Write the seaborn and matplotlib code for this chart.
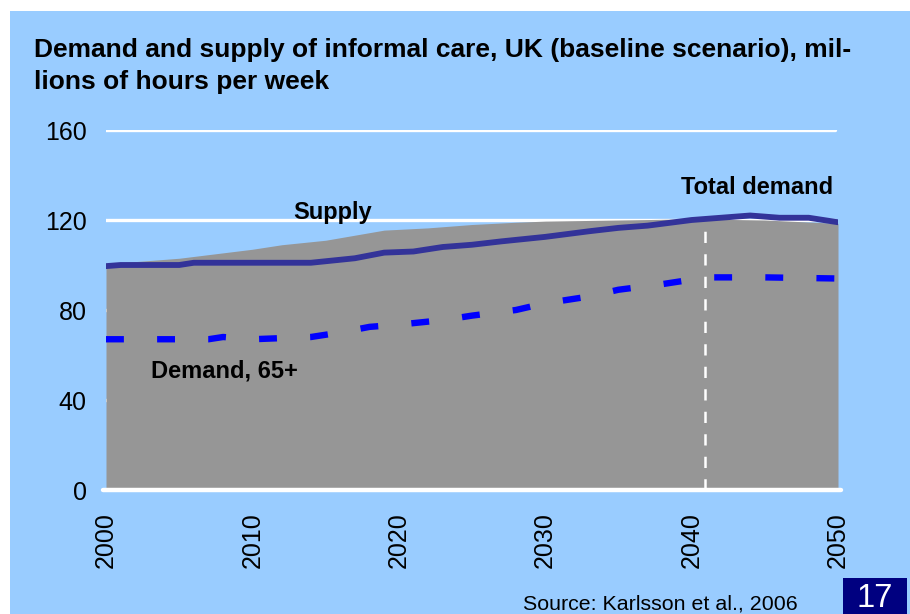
import matplotlib
matplotlib.use("Agg")
import matplotlib.pyplot as plt
import seaborn as sns
import pandas as pd
from matplotlib.patches import Rectangle

# data (millions of hours per week)
supply_years = [2000, 2001, 2005, 2006, 2014, 2017, 2019, 2021, 2023, 2025, 2027,
                2030, 2033, 2035, 2037, 2040, 2042, 2044, 2046, 2048, 2049, 2050]
supply = [99.5, 100, 100, 101, 101, 103, 105.5, 106, 108, 109, 110.5,
          112.5, 115, 116.5, 117.5, 120, 121, 122, 121, 121, 120, 119]

total_years = [2000, 2005, 2010, 2012, 2015, 2019, 2022, 2025, 2028, 2030,
               2035, 2040, 2045, 2050]
total_demand = [100.5, 103, 107, 109, 111, 115.5, 116.5, 118, 119, 119.5,
                120, 120.5, 120, 118.5]

demand_years = [2000, 2007, 2008, 2010, 2014, 2016, 2018, 2020, 2023, 2025,
                2028, 2030, 2033, 2035, 2038, 2040, 2041, 2045, 2050]
demand_65 = [67, 67, 68, 67, 68, 70, 72.5, 73.5, 75.5, 77.5,
             80, 83, 86, 89, 91.5, 93.5, 94.5, 94.5, 94]

y_ticks = [0, 40, 80, 120, 160]
x_ticks = [2000, 2010, 2020, 2030, 2040, 2050]

BG = "#99CCFF"

sns.set_theme(style="white")
plt.rcParams["font.family"] = ["Liberation Sans", "DejaVu Sans"]
plt.rcParams["text.color"] = "black"
plt.rcParams["xtick.color"] = "black"
plt.rcParams["ytick.color"] = "black"

fig = plt.figure(figsize=(9.1, 6.14), dpi=100, facecolor="white")
fig.patches.append(Rectangle((10 / 910, 0), 900 / 910, 603 / 614,
                             transform=fig.transFigure, facecolor=BG,
                             edgecolor="none", zorder=-10))

ax = fig.add_axes([106 / 910, 124 / 614, 732 / 910, 360 / 614])
ax.set_facecolor("none")

# grid behind the area
for v in y_ticks[1:]:
    ax.axhline(v, color="white", lw=2.4, zorder=0, xmin=-0.002, xmax=0.996)

ax.fill_between(total_years, 0, total_demand, color="#969696", lw=0, zorder=1)

df_s = pd.DataFrame({"year": supply_years, "value": supply})
df_d = pd.DataFrame({"year": demand_years, "value": demand_65})
sns.lineplot(data=df_s, x="year", y="value", ax=ax, color="#333399", lw=4.2,
             zorder=3, solid_capstyle="round")
sns.lineplot(data=df_d, x="year", y="value", ax=ax, color="#0000FF", lw=4.6,
             zorder=3, dashes=False)
ax.lines[-1].set_dashes([2.8, 5.2])
ax.lines[-1].set_dash_capstyle("butt")

# vertical marker for total demand
ax.plot([2040.9, 2040.9], [0, 120.5], color="white", lw=1.8,
        dashes=(4.5, 4.5), zorder=2)

# baseline
ax.axhline(0, color="white", lw=3.2, zorder=4, xmin=-0.004, xmax=1.004,
           clip_on=False, solid_capstyle="round")

ax.set_xlim(2000, 2050)
ax.set_ylim(0, 160)
ax.set_yticks(y_ticks)
ax.set_xticks(x_ticks)
ax.tick_params(axis="y", length=0, pad=14, labelsize=18)
ax.tick_params(axis="x", length=0, pad=16, labelsize=18, labelrotation=90)
ax.set_xlabel("")
ax.set_ylabel("")
sns.despine(ax=ax, left=True, bottom=True)

ax.text(2015.5, 120.3, "Supply", ha="center", va="baseline",
        fontsize=17, fontweight="bold", zorder=5)
ax.text(2044.5, 131.6, "Total demand", ha="center", va="baseline",
        fontsize=17, fontweight="bold", zorder=5)
ax.text(2008.1, 50, "Demand, 65+", ha="center", va="baseline",
        fontsize=17, fontweight="bold", zorder=5)

fig.text(34 / 910, 1 - 56.5 / 614,
         "Demand and supply of informal care, UK (baseline scenario), mil-",
         ha="left", va="baseline", fontsize=19, fontweight="bold")
fig.text(34 / 910, 1 - 88.5 / 614, "lions of hours per week",
         ha="left", va="baseline", fontsize=19, fontweight="bold")

fig.text(523 / 910, 1 - 609 / 614, "Source: Karlsson et al., 2006",
         ha="left", va="baseline", fontsize=15.4)

fig.patches.append(Rectangle((843 / 910, 0), 64 / 910, 36 / 614,
                             transform=fig.transFigure, facecolor="#000080",
                             edgecolor="none", zorder=5))
fig.text(875 / 910, 1 - 607 / 614, "17", ha="center", va="baseline",
         fontsize=23.5, color="white", zorder=6)

fig.savefig("out.png", dpi=100, facecolor="white")
